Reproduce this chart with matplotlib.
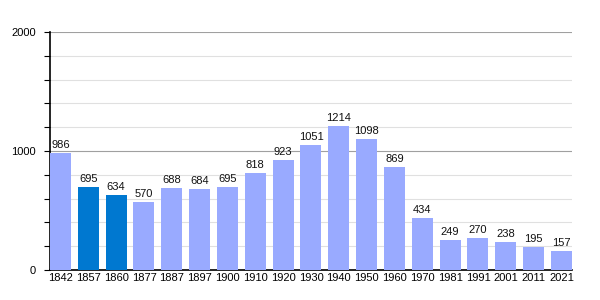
import matplotlib
matplotlib.use("Agg")
import matplotlib.pyplot as plt
from matplotlib.ticker import MultipleLocator

years = ["1842", "1857", "1860", "1877", "1887", "1897", "1900", "1910", "1920", "1930",
         "1940", "1950", "1960", "1970", "1981", "1991", "2001", "2011", "2021"]
population = [986, 695, 634, 570, 688, 684, 695, 818, 923, 1051,
              1214, 1098, 869, 434, 249, 270, 238, 195, 157]
highlighted = ["1857", "1860"]

plt.rcParams['font.family'] = ['Liberation Sans', 'DejaVu Sans']

fig = plt.figure(figsize=(6, 3), dpi=100)
ax = fig.add_axes([0.0833, 0.1, 0.87, 0.7933])

x = list(range(len(years)))
colors = ['#0078d0' if y in highlighted else '#99aaff' for y in years]
w = 0.755
ax.bar(x, population, width=w, color=colors, zorder=3)

for xi, p in zip(x, population):
    ax.text(xi, p + 25, str(p), ha='center', va='bottom', fontsize=8, color='#111111', zorder=4)

ax.set_xlim(-w / 2, len(years) - 1 + w / 2)
ax.set_ylim(0, 2000)
ax.set_xticks(x)
ax.set_xticklabels(years, fontsize=8)
ax.yaxis.set_major_locator(MultipleLocator(1000))
ax.yaxis.set_minor_locator(MultipleLocator(200))
ax.set_yticks([0, 1000, 2000])
ax.set_yticklabels(["0", "1000", "2000"], fontsize=8)

ax.grid(axis='y', which='minor', color='#e0e0e0', linewidth=0.8, zorder=0)
ax.grid(axis='y', which='major', color='#a0a0a0', linewidth=0.8, zorder=0)
ax.tick_params(axis='x', length=0, pad=2)
ax.tick_params(axis='y', which='major', length=4, width=0.8, pad=6)
ax.tick_params(axis='y', which='minor', length=4, width=0.8)

for s in ['top', 'right']:
    ax.spines[s].set_visible(False)
ax.spines['left'].set_linewidth(1.2)
ax.spines['bottom'].set_linewidth(1.2)

fig.savefig("out.png", dpi=100)
